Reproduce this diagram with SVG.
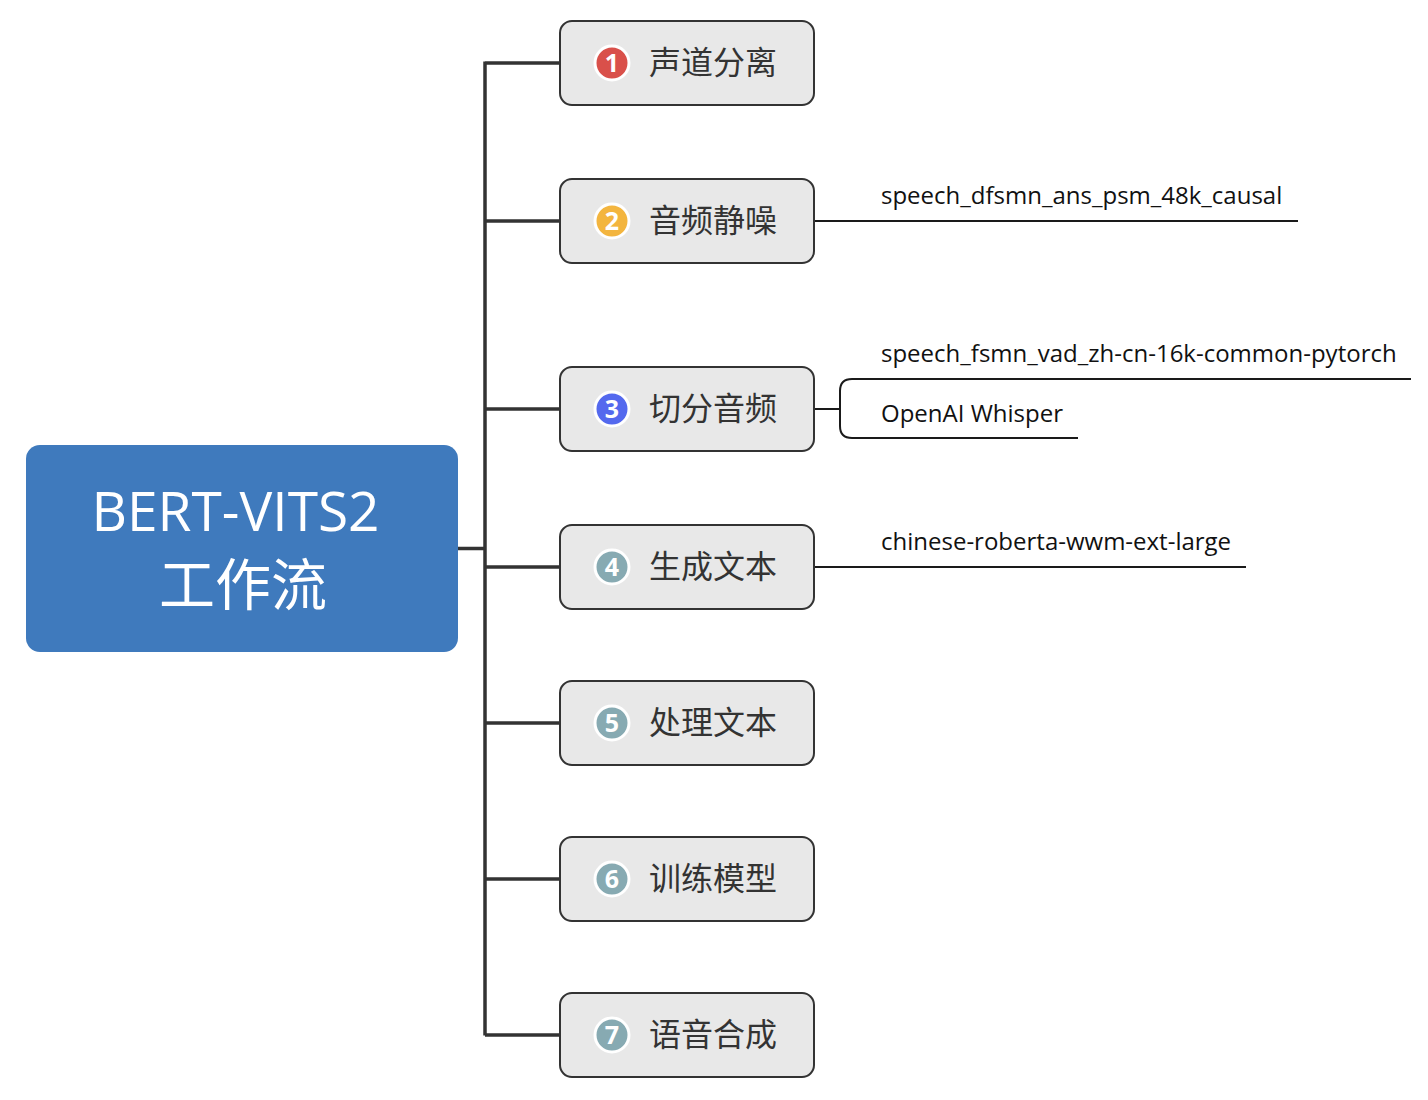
<svg xmlns="http://www.w3.org/2000/svg" width="1428" height="1100" viewBox="0 0 1428 1100">
<style>
.bg{fill:#ffffff}
.trunk{stroke:#333333;stroke-width:3.5;fill:none}
.sub{stroke:#1a1a1a;stroke-width:2;fill:none}
.node{fill:#e8e8e8;stroke:#333333;stroke-width:2}
.lbl{font-family:"Noto Sans CJK SC","Noto Sans",sans-serif;font-size:32px;fill:#333333}
.num{font-family:"Open Sans","Noto Sans",sans-serif;font-size:25px;font-weight:bold;fill:#ffffff;text-anchor:middle}
.badge{stroke:#ffffff;stroke-width:3}
.ch{font-family:"Open Sans","Noto Sans",sans-serif;font-size:24px;fill:#111111}
.root{font-family:"Open Sans","Noto Sans CJK SC",sans-serif;font-size:55px;fill:#ffffff;text-anchor:middle}
.rootc{font-family:"Noto Sans CJK SC",sans-serif;font-size:56px;fill:#ffffff;text-anchor:middle}
</style>
<rect class="bg" x="0" y="0" width="1428" height="1100"/>
<g id="connectors">
<path class="trunk" d="M458 548.5H485M485 61.5V1035.5M485 63H560M485 221H560M485 409H560M485 567H560M485 723H560M485 879H560M485 1035H560"/>
<path class="sub" d="M814 221H1298"/>
<path class="sub" d="M814 409H840M1411 379H852Q840 379 840 391V426Q840 438 852 438H1078"/>
<path class="sub" d="M814 567H1246"/>
</g>
<g id="root">
<rect x="26" y="445" width="432" height="207" rx="14" fill="#3f7abd"/>
<text class="root" x="235.5" y="531">BERT-VITS2</text>
<text class="rootc" x="243" y="605">工作流</text>
</g>
<g id="n1">
<rect class="node" x="560" y="21" width="254" height="84" rx="12"/>
<circle class="badge" cx="612" cy="63" r="17" fill="#d9504a"/>
<text class="num" x="612" y="72">1</text>
<text class="lbl" x="649" y="74">声道分离</text>
</g>
<g id="n2">
<rect class="node" x="560" y="179" width="254" height="84" rx="12"/>
<circle class="badge" cx="612" cy="221" r="17" fill="#f3b53f"/>
<text class="num" x="612" y="230">2</text>
<text class="lbl" x="649" y="232">音频静噪</text>
</g>
<g id="n2c">
<text class="ch" x="881" y="204">speech_dfsmn_ans_psm_48k_causal</text>
</g>
<g id="n3">
<rect class="node" x="560" y="367" width="254" height="84" rx="12"/>
<circle class="badge" cx="612" cy="409" r="17" fill="#5469ee"/>
<text class="num" x="612" y="418">3</text>
<text class="lbl" x="649" y="420">切分音频</text>
</g>
<g id="n3c1">
<text class="ch" x="881" y="362">speech_fsmn_vad_zh-cn-16k-common-pytorch</text>
</g>
<g id="n3c2">
<text class="ch" x="881" y="422">OpenAI Whisper</text>
</g>
<g id="n4">
<rect class="node" x="560" y="525" width="254" height="84" rx="12"/>
<circle class="badge" cx="612" cy="567" r="17" fill="#87aab2"/>
<text class="num" x="612" y="576">4</text>
<text class="lbl" x="649" y="578">生成文本</text>
</g>
<g id="n4c">
<text class="ch" x="881" y="550">chinese-roberta-wwm-ext-large</text>
</g>
<g id="n5">
<rect class="node" x="560" y="681" width="254" height="84" rx="12"/>
<circle class="badge" cx="612" cy="723" r="17" fill="#87aab2"/>
<text class="num" x="612" y="732">5</text>
<text class="lbl" x="649" y="734">处理文本</text>
</g>
<g id="n6">
<rect class="node" x="560" y="837" width="254" height="84" rx="12"/>
<circle class="badge" cx="612" cy="879" r="17" fill="#87aab2"/>
<text class="num" x="612" y="888">6</text>
<text class="lbl" x="649" y="890">训练模型</text>
</g>
<g id="n7">
<rect class="node" x="560" y="993" width="254" height="84" rx="12"/>
<circle class="badge" cx="612" cy="1035" r="17" fill="#87aab2"/>
<text class="num" x="612" y="1044">7</text>
<text class="lbl" x="649" y="1046">语音合成</text>
</g>
</svg>
